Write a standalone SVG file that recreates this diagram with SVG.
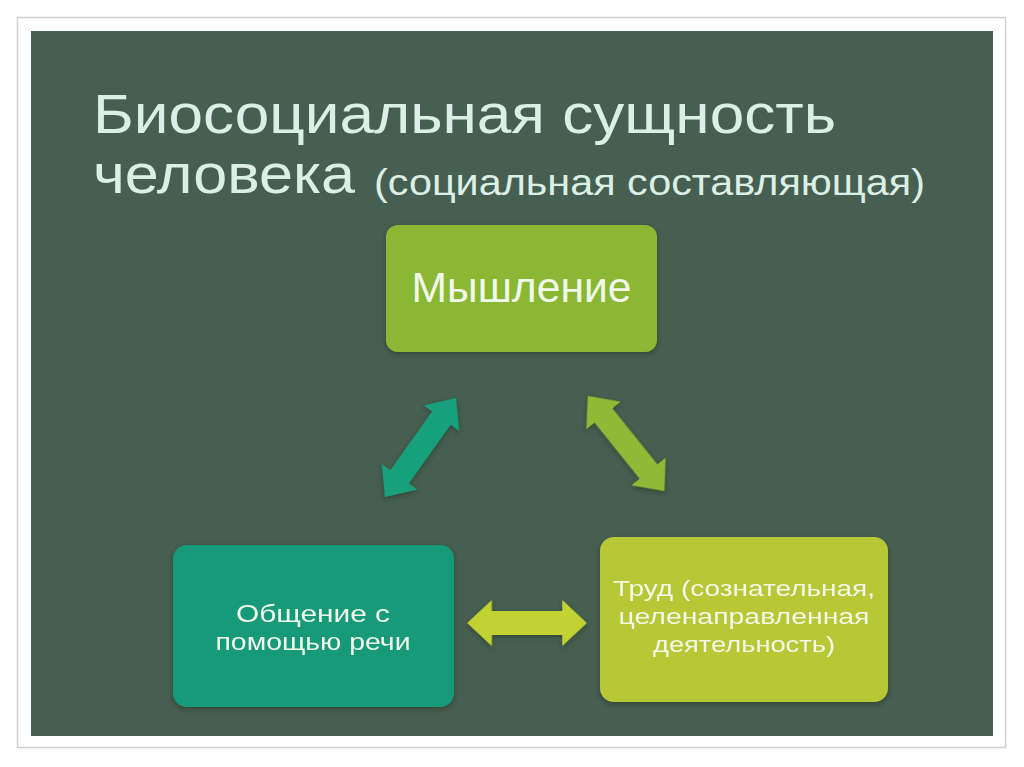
<svg xmlns="http://www.w3.org/2000/svg" width="1024" height="767" viewBox="0 0 1024 767">
<defs>
<style>
.t{font-family:"Liberation Sans","DejaVu Sans",sans-serif;}
.title{fill:#dcefe6;font-size:55px;}
.sub{fill:#dcefe6;font-size:36px;}
.bt{fill:#f2f8ea;text-anchor:middle;}
</style>
<filter id="sh" x="-10%" y="-10%" width="120%" height="130%">
<feDropShadow dx="0" dy="2" stdDeviation="2" flood-color="#1c2a22" flood-opacity="0.5"/>
</filter>
<path id="dbl" d="M -61,0 L -36,-23 L -36,-12 L 36,-12 L 36,-23 L 61,0 L 36,23 L 36,12 L -36,12 L -36,23 Z"/>
</defs>
<rect x="0" y="0" width="1024" height="767" fill="#ffffff"/>
<rect x="17.5" y="17.5" width="988" height="730" fill="#ffffff" stroke="#cfcfcf" stroke-width="1.5"/>
<rect x="31" y="31" width="962" height="705" fill="#465f50"/>
<g id="title" class="t">
<text class="title" x="93" y="133" textLength="743" lengthAdjust="spacingAndGlyphs">Биосоциальная сущность</text>
<text class="title" x="93" y="193" textLength="262" lengthAdjust="spacingAndGlyphs">человека</text>
<text class="sub" x="374" y="195" textLength="551" lengthAdjust="spacingAndGlyphs">(социальная составляющая)</text>
</g>
<g id="connectors" filter="url(#sh)">
<use href="#dbl" fill="#13a07c" transform="translate(420.5,447.5) rotate(-54.4) scale(1,0.95)"/>
<use href="#dbl" fill="#8dbb34" transform="translate(626,443.5) rotate(51.2) scale(1,0.95)"/>
<use href="#dbl" fill="#c2d232" transform="translate(527,623) scale(0.98,1)"/>
</g>
<g id="node-thinking" class="t">
<rect x="386" y="225" width="271" height="127" rx="12" fill="#8ab835" filter="url(#sh)"/>
<text class="bt" x="521.5" y="302" font-size="42" textLength="220" lengthAdjust="spacingAndGlyphs">Мышление</text>
</g>
<g id="node-communication" class="t">
<rect x="173" y="545" width="281" height="162" rx="14" fill="#149a7a" filter="url(#sh)"/>
<text class="bt" x="313" y="622" font-size="24" fill="#dcf2ea" textLength="154" lengthAdjust="spacingAndGlyphs">Общение с</text>
<text class="bt" x="313" y="650" font-size="24" fill="#dcf2ea" textLength="195" lengthAdjust="spacingAndGlyphs">помощью речи</text>
</g>
<g id="node-labor" class="t">
<rect x="600" y="537" width="288" height="165" rx="14" fill="#b7c734" filter="url(#sh)"/>
<text class="bt" x="744" y="596" font-size="22" fill="#f4f6d6" textLength="262" lengthAdjust="spacingAndGlyphs">Труд (сознательная,</text>
<text class="bt" x="744" y="624" font-size="22" fill="#f4f6d6" textLength="251" lengthAdjust="spacingAndGlyphs">целенаправленная</text>
<text class="bt" x="744" y="652" font-size="22" fill="#f4f6d6" textLength="182" lengthAdjust="spacingAndGlyphs">деятельность)</text>
</g>
</svg>
